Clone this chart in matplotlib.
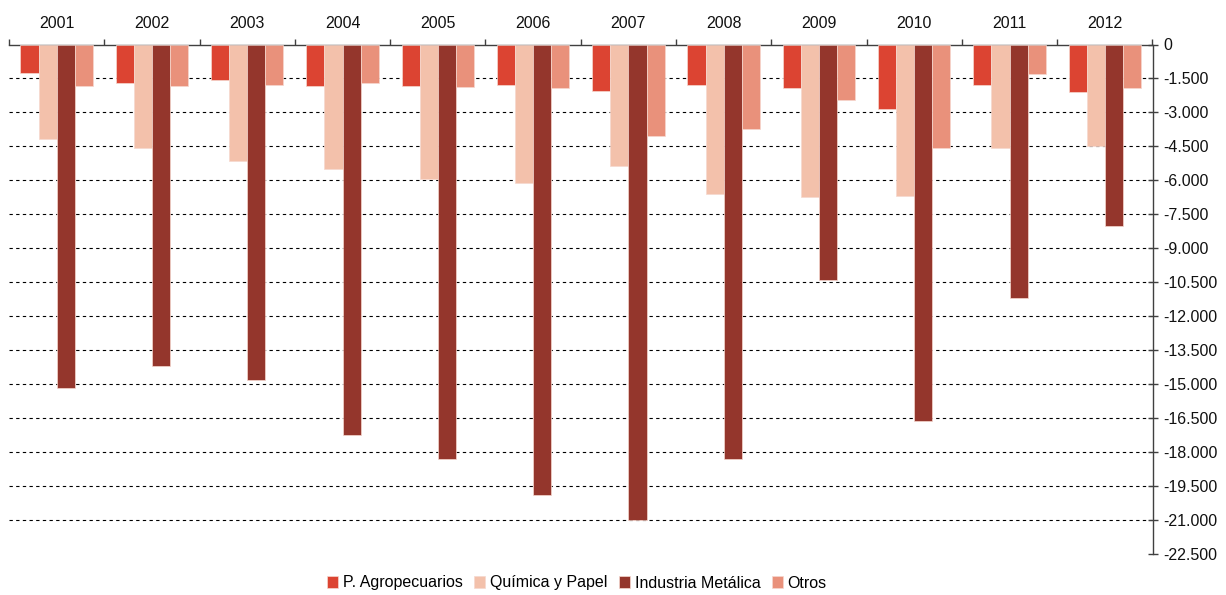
import numpy as np
import matplotlib
matplotlib.use("Agg")
import matplotlib.pyplot as plt
from matplotlib.ticker import FuncFormatter, FixedLocator

plt.rcParams['font.family'] = ['Liberation Sans', 'DejaVu Sans']

years = ['2001', '2002', '2003', '2004', '2005', '2006', '2007', '2008', '2009', '2010', '2011', '2012']
series_names = ['P. Agropecuarios', 'Química y Papel', 'Industria Metálica', 'Otros']
agro = [-1250, -1680, -1570, -1830, -1830, -1780, -2040, -1780, -1940, -2870, -1780, -2100]
quimica = [-4190, -4560, -5150, -5520, -5940, -6130, -5350, -6620, -6720, -6680, -4560, -4470]
metalica = [-15190, -14200, -14840, -17250, -18320, -19900, -21000, -18320, -10400, -16660, -11210, -8040]
otros = [-1830, -1830, -1780, -1720, -1900, -1940, -4040, -3720, -2460, -4560, -1290, -1940]
colors = ['#DC4432', '#F3C1AB', '#94362C', '#E9917B']
yticks = list(range(0, -22501, -1500))

fig = plt.figure(figsize=(12.26, 5.95), dpi=100)
ax = fig.add_axes([9/1226, 1 - 553.5/595, (1152.5 - 9)/1226, (553.5 - 44.5)/595])

x = np.arange(len(years))
w = 0.19
data = [agro, quimica, metalica, otros]
for i, (vals, c, name) in enumerate(zip(data, colors, series_names)):
    ax.bar(x + (i - 1.5) * w, vals, width=w, color=c, edgecolor='#F6D8CF',
           linewidth=0.5, label=name, zorder=3)

ax.set_xlim(-0.5, len(years) - 0.5)
ax.set_ylim(-22500, 0)

# dashed gridlines
ax.hlines(yticks[1:-1], -0.5, len(years) - 0.5, colors='black',
          linestyles=(0, (3, 3)), linewidth=0.8, zorder=1)

# spines
for s in ['left', 'bottom']:
    ax.spines[s].set_visible(False)
for s in ['top', 'right']:
    ax.spines[s].set_color('#404040')
    ax.spines[s].set_linewidth(1.0)

# y axis on right
ax.yaxis.tick_right()
ax.yaxis.set_major_locator(FixedLocator(yticks))
ax.yaxis.set_major_formatter(FuncFormatter(lambda v, p: f"{int(round(v)):,}".replace(",", ".")))
ax.tick_params(axis='y', which='major', direction='inout', length=7, width=1.0,
               color='#404040', labelsize=11.5, pad=4, labelcolor='#111111')

# x axis on top
ax.xaxis.tick_top()
ax.set_xticks(x)
ax.set_xticklabels(years)
ax.set_xticks(np.arange(-0.5, len(years) - 0.4, 1.0), minor=True)
ax.tick_params(axis='x', which='major', length=0, labelsize=11.5, pad=10, labelcolor='#111111')
ax.tick_params(axis='x', which='minor', direction='out', length=4, width=1.0, color='#404040')

leg = fig.legend(loc='center', bbox_to_anchor=(577/1226, 1 - 583/595), ncol=4, frameon=False,
                 fontsize=11.5, handlelength=0.7, handleheight=0.7, handletextpad=0.3,
                 columnspacing=0.7, borderaxespad=0)

fig.savefig('out.png', dpi=100)
